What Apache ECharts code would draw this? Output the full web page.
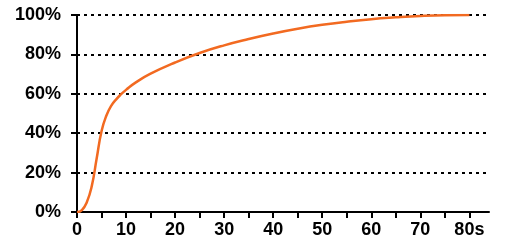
<!DOCTYPE html>
<html>
<head>
<meta charset="utf-8">
<script src="https://cdn.jsdelivr.net/npm/echarts@6/dist/echarts.min.js"></script>
<style>
  html, body { margin: 0; padding: 0; background: #fff; }
  #chart { width: 520px; height: 250px; }
</style>
</head>
<body>
<div id="chart"></div>
<script>
// time (s) and cumulative percentage
const times = [0, 1, 2, 3, 4, 5, 6, 7, 8, 9, 10, 12, 15, 20, 25, 30, 35, 40, 45, 50, 55, 60, 65, 70, 75, 80]
const percents = [0, 1, 5, 13, 27, 41, 49, 54, 57.2, 59.8, 62, 65.8, 70.2, 75.9, 80.7, 84.6, 87.8, 90.6, 93, 95, 96.6, 97.9, 98.8, 99.5, 99.9, 100]
const xTicks = [0, 5, 10, 15, 20, 25, 30, 35, 40, 45, 50, 55, 60, 65, 70, 75, 80]
const xLabels = [0, 10, 20, 30, 40, 50, 60, 70, 80]

const labelFont = {
    color: '#000',
    fontFamily: 'Liberation Sans, Arial, sans-serif',
    fontWeight: 'bold',
    fontSize: 18
}

const chart = echarts.init(document.getElementById('chart'))

chart.setOption({
    animation: false,
    grid: { left: 77, right: 31, top: 15, bottom: 38 },
    xAxis: {
        type: 'value',
        min: 0,
        max: 84,
        interval: 5,
        axisLine: { lineStyle: { color: '#000', width: 2 } },
        axisTick: {
            customValues: xTicks,
            length: 6,
            lineStyle: { color: '#000', width: 2 }
        },
        axisLabel: {
            customValues: xLabels,
            ...labelFont,
            margin: 9,
            formatter: (v) => v === 80 ? '80s' : String(v)
        },
        splitLine: { show: false }
    },
    yAxis: {
        type: 'value',
        min: 0,
        max: 100,
        interval: 20,
        axisLine: { show: true, lineStyle: { color: '#000', width: 2 } },
        axisTick: { show: true, length: 6, lineStyle: { color: '#000', width: 2 } },
        axisLabel: { ...labelFont, margin: 16, formatter: '{value}%' },
        splitLine: {
            lineStyle: { color: '#000', width: 2, type: [3, 4] }
        }
    },
    series: [{
        type: 'line',
        data: times.map((t, i) => [t, percents[i]]),
        smooth: 0.5,
        symbol: 'none',
        lineStyle: { color: '#F26A21', width: 2.5 }
    }]
})
</script>
</body>
</html>
